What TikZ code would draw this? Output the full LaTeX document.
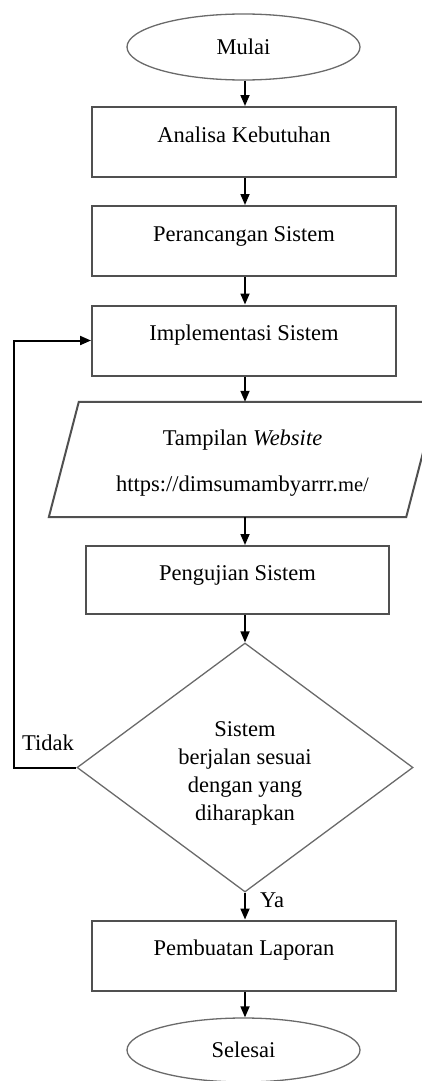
\documentclass[tikz,border=0pt]{standalone}
\usepackage{fontspec}
\setmainfont{Liberation Serif}
\usetikzlibrary{shapes.geometric,arrows.meta,calc}
\definecolor{edge}{HTML}{505050}
\definecolor{thin}{HTML}{6A6A6A}
\begin{document}
\begin{tikzpicture}[x=1pt,y=-1pt,
  every node/.style={font=\fontsize{22.5}{28}\selectfont, inner sep=0pt},
  procbox/.style={draw=edge, line width=2pt, rectangle, minimum width=304pt, minimum height=70pt, text height=16pt, text depth=16pt},
  termnode/.style={draw=thin, line width=1.3pt, ellipse, minimum width=233pt, minimum height=66pt},
  flow/.style={black, line width=1.7pt, -{Triangle[width=9pt,length=11pt]}},
  lbl/.style={anchor=base west},
]
\useasboundingbox (0,0) rectangle (422,1081);
\clip (0,0) rectangle (422,1081);
\coordinate (col) at (245,0);
\coordinate (loopx) at (14,0);

\node[termnode] (mulai) at (243.5,47) {Mulai};
\node[procbox] (analisa) at (244,142) {Analisa Kebutuhan};
\node[procbox] (rancang) at (244,241) {Perancangan Sistem};
\node[procbox] (impl) at (244,340.5) {Implementasi Sistem};

\node[minimum width=357pt, minimum height=115pt] (web) at (242.5,459.5) {};
\draw[edge, line width=2pt, line join=miter]
  ($(web.north west)+(15,0)$) -- ($(web.north east)+(15,0)$) --
  ($(web.south east)+(-15,0)$) -- ($(web.south west)+(-15,0)$) -- cycle;
\node[align=center, font=\fontsize{22.5}{46}\selectfont] (webtext) at (242.5,463.5)
  {Tampilan \textit{Website}\\https://dimsumambyarrr.{\fontsize{20.5}{22}\selectfont me/}};

\node[procbox, minimum width=303pt, minimum height=68pt] (uji) at (237.5,580) {Pengujian Sistem};

\node[draw=thin, line width=1.3pt, diamond, aspect=1.35, minimum width=336pt, minimum height=249pt] (dec) at (245,767.5) {};
\node[align=center] (dectext) at (245,773) {Sistem\\berjalan sesuai\\dengan yang\\diharapkan};

\node[procbox] (lapor) at (244,955.5) {Pembuatan Laporan};
\node[termnode, minimum height=64pt] (selesai) at (243.5,1050) {Selesai};

\draw[flow] (mulai.south -| col) -- (analisa.north -| col);
\draw[flow] (analisa.south -| col) -- (rancang.north -| col);
\draw[flow] (rancang.south -| col) -- (impl.north -| col);
\draw[flow] (impl.south -| col) -- (web.north -| col);
\draw[flow] (web.south -| col) -- (uji.north -| col);
\draw[flow] (uji.south -| col) -- (dec.north);
\draw[flow] (dec.south) -- (lapor.north -| col);
\draw[flow] (lapor.south -| col) -- (selesai.north -| col);
\draw[flow, line width=2pt] (dec.west) -- (dec.west -| loopx) |- (impl.west);

\node[lbl] (tidak) at (22,750) {Tidak};
\node[lbl] (ya) at (260,907) {Ya};
\end{tikzpicture}
\end{document}
